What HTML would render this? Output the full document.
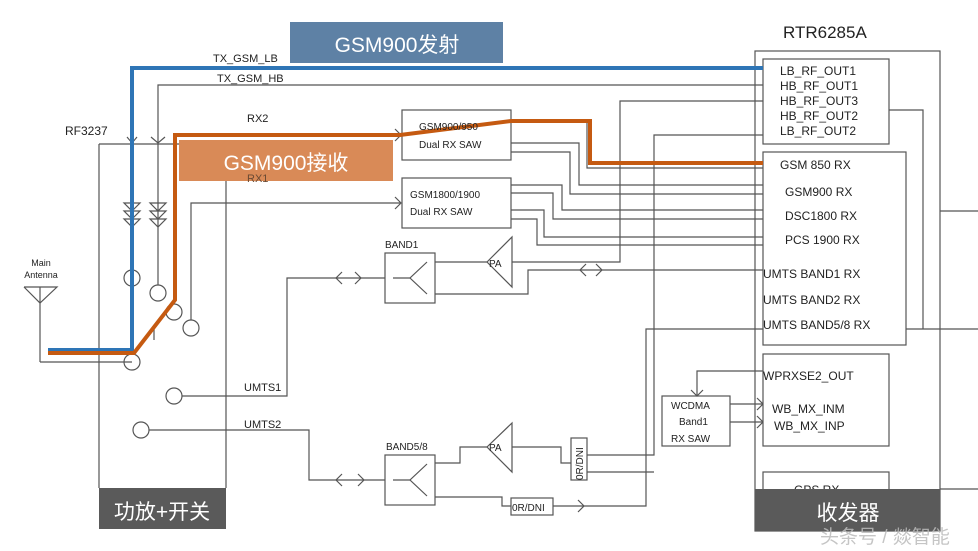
<!DOCTYPE html>
<html><head><meta charset="utf-8"><style>
html,body{margin:0;padding:0;background:#fff;}
svg{display:block;}
text{font-family:"Liberation Sans","Noto Sans CJK SC",sans-serif;fill:#222;}
</style></head><body>
<svg width="978" height="551" viewBox="0 0 978 551" xmlns="http://www.w3.org/2000/svg">
<g fill="none" stroke="#555" stroke-width="1.2">
<!-- left module box -->
<line x1="99" y1="144" x2="99" y2="488"/>
<line x1="226" y1="144" x2="226" y2="488"/>
<line x1="99" y1="144" x2="226" y2="144"/>
<!-- antenna -->
<polyline points="24,287 57,287 40,303 24,287"/>
<line x1="40" y1="287" x2="40" y2="362"/>
<line x1="40" y1="362" x2="132" y2="362"/>
<!-- TX HB -->
<polyline points="158,285 158,85 763,85"/>
<circle cx="158" cy="293" r="8"/>
<polyline points="151,137 158,143 165,137"/>
<polyline points="127,137 132,143 137,137"/>
<path d="M150,203 H166 L158,211 Z M150,211 H166 L158,219 Z M150,219 H166 L158,227 Z"/>
<path d="M124,203 H140 L132,211 Z M124,211 H140 L132,219 Z M124,219 H140 L132,227 Z"/>
<circle cx="132" cy="278" r="8"/>
<circle cx="132" cy="362" r="8"/>
<circle cx="174" cy="312" r="8"/>
<polyline points="191,320 191,203 400,203"/>
<circle cx="191" cy="328" r="8"/>
<polyline points="395,197 401,203 395,209"/>
<polyline points="395,129 401,135 395,141"/>
<line x1="154" y1="340" x2="154" y2="326"/>
<!-- SAW boxes -->
<rect x="402" y="110" width="109" height="50"/>
<rect x="402" y="178" width="109" height="50"/>
<!-- SAW outputs -->
<polyline points="511,121 587,121 587,168 763,168"/>
<polyline points="511,143 579,143 579,185 763,185"/>
<polyline points="511,152 570,152 570,194 763,194"/>
<polyline points="511,185 562,185 562,210 763,210"/>
<polyline points="511,193 553,193 553,219 763,219"/>
<polyline points="511,210 544,210 544,237 763,237"/>
<polyline points="511,219 537,219 537,245 763,245"/>
<!-- HB out3 -->
<polyline points="763,101 620,101 620,262 512,262"/>
<polygon points="487,262 512,237 512,287"/>
<line x1="435" y1="262" x2="487" y2="262"/>
<!-- LB out2 -->
<polyline points="763,135 654,135 654,455 587,455"/>
<line x1="587" y1="472" x2="654" y2="472"/>
<!-- BAND1 -->
<rect x="385" y="253" width="50" height="50"/>
<line x1="393" y1="278" x2="410" y2="278"/>
<polyline points="427,262 410,278 427,294"/>
<polyline points="182,396 287,396 287,278 385,278"/>
<polyline points="342,272 336,278 342,284"/>
<polyline points="355,272 361,278 355,284"/>
<circle cx="174" cy="396" r="8"/>
<polyline points="435,294 528,294 528,270 763,270"/>
<polyline points="586,264 580,270 586,276"/>
<polyline points="596,264 602,270 596,276"/>
<!-- UMTS2 / BAND5/8 -->
<circle cx="141" cy="430" r="8"/>
<polyline points="149,430 309,430 309,480 385,480"/>
<polyline points="342,474 336,480 342,486"/>
<polyline points="358,474 364,480 358,486"/>
<rect x="385" y="455" width="50" height="50"/>
<line x1="393" y1="480" x2="410" y2="480"/>
<polyline points="427,464 410,480 427,496"/>
<polyline points="435,463 460,463 460,447 487,447"/>
<polygon points="487,447 512,423 512,472"/>
<polyline points="512,447 561,447 561,463 571,463"/>
<rect x="571" y="438" width="16" height="42"/>
<polyline points="435,497 502,497 502,506 511,506"/>
<rect x="511" y="498" width="42" height="17"/>
<polyline points="553,506 646,506 646,329 763,329"/>
<polyline points="578,500 584,506 578,512"/>
<!-- WCDMA -->
<rect x="662" y="396" width="68" height="50"/>
<polyline points="763,371 697,371 697,396"/>
<polyline points="691,390 697,396 703,390"/>
<line x1="730" y1="404" x2="763" y2="404"/>
<line x1="730" y1="422" x2="763" y2="422"/>
<polyline points="757,398 763,404 757,410"/>
<polyline points="757,416 763,422 757,428"/>
<!-- RTR boxes -->
<rect x="755" y="51" width="185" height="480"/>
<rect x="763" y="59" width="126" height="85" fill="#fff"/>
<rect x="763" y="152" width="143" height="193" fill="#fff"/>
<rect x="763" y="354" width="126" height="92" fill="#fff"/>
<rect x="763" y="472" width="126" height="40" fill="#fff"/>
<polyline points="889,110 923,110 923,329"/>
<line x1="906" y1="329" x2="978" y2="329"/>
<line x1="940" y1="211" x2="978" y2="211"/>
<line x1="940" y1="489" x2="978" y2="489"/>
</g>
<!-- banners -->
<rect x="290" y="22" width="213" height="41" fill="#5e81a5"/>
<text x="397" y="52" font-size="21" text-anchor="middle" style="fill:#fff">GSM900发射</text>
<rect x="179" y="140" width="214" height="41" fill="#d98a57"/>
<text x="286" y="170" font-size="21" text-anchor="middle" style="fill:#fff">GSM900接收</text>
<!-- highlighted paths -->
<polyline points="48,350 132,350 132,68 763,68" fill="none" stroke="#2e75b6" stroke-width="4"/>
<polyline points="48,353 134,353 175,300 175,135 400,135 511,121 590,121 590,163 763,163" fill="none" stroke="#c55a11" stroke-width="4"/>
<!-- labels -->
<g font-size="11">
<text x="213" y="62">TX_GSM_LB</text>
<text x="217" y="82">TX_GSM_HB</text>
<text x="247" y="122">RX2</text>
<text x="247" y="182" style="fill:#6b4a33">RX1</text>
<text x="65" y="135" font-size="12">RF3237</text>
<text x="41" y="266" font-size="9" text-anchor="middle">Main</text>
<text x="41" y="278" font-size="9" text-anchor="middle">Antenna</text>
<text x="419" y="130" font-size="10">GSM900/950</text>
<text x="419" y="148" font-size="10">Dual RX SAW</text>
<text x="410" y="198" font-size="10">GSM1800/1900</text>
<text x="410" y="215" font-size="10">Dual RX SAW</text>
<text x="385" y="248" font-size="10">BAND1</text>
<text x="386" y="450" font-size="10">BAND5/8</text>
<text x="489" y="267" font-size="10">PA</text>
<text x="489" y="451" font-size="10">PA</text>
<text x="244" y="391">UMTS1</text>
<text x="244" y="428">UMTS2</text>
<text x="512" y="511" font-size="10">0R/DNI</text>
<text x="583" y="480" font-size="10" transform="rotate(-90 583 480)">0R/DNI</text>
<text x="671" y="409" font-size="10">WCDMA</text>
<text x="679" y="425" font-size="10">Band1</text>
<text x="671" y="442" font-size="10">RX SAW</text>
<text x="783" y="38" font-size="17">RTR6285A</text>
<text x="780" y="75" font-size="12">LB_RF_OUT1</text>
<text x="780" y="90" font-size="12">HB_RF_OUT1</text>
<text x="780" y="105" font-size="12">HB_RF_OUT3</text>
<text x="780" y="120" font-size="12">HB_RF_OUT2</text>
<text x="780" y="135" font-size="12">LB_RF_OUT2</text>
<text x="780" y="169" font-size="12">GSM 850 RX</text>
<text x="785" y="196" font-size="12">GSM900 RX</text>
<text x="785" y="220" font-size="12">DSC1800 RX</text>
<text x="785" y="244" font-size="12">PCS 1900 RX</text>
<text x="763" y="278" font-size="12">UMTS BAND1 RX</text>
<text x="763" y="304" font-size="12">UMTS BAND2 RX</text>
<text x="763" y="329" font-size="12">UMTS BAND5/8 RX</text>
<text x="763" y="380" font-size="12">WPRXSE2_OUT</text>
<text x="772" y="413" font-size="12">WB_MX_INM</text>
<text x="774" y="430" font-size="12">WB_MX_INP</text>
<text x="794" y="494" font-size="12">GPS RX</text>
</g>
<rect x="99" y="488" width="127" height="41" fill="#5a5a5a"/>
<text x="162" y="519" font-size="21" text-anchor="middle" style="fill:#fff">功放+开关</text>
<rect x="755" y="489" width="185" height="42" fill="#5a5a5a"/>
<text x="848" y="520" font-size="21" text-anchor="middle" style="fill:#fff">收发器</text>
<text x="820" y="543" font-size="19" style="fill:#bbb;opacity:0.85">头条号 / 燚智能</text>
</svg>
</body></html>
